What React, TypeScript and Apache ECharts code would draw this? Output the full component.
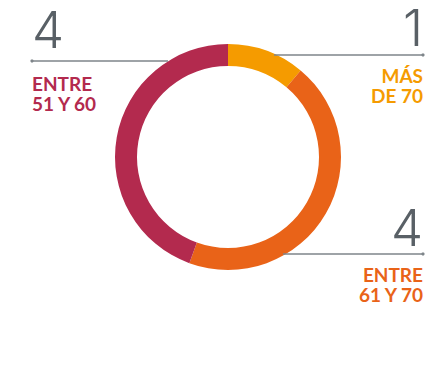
import React, { useEffect, useRef } from "react";
import * as echarts from "echarts";

// Age groups, counts and colours for the ring
const categories = ["MÁS DE 70", "ENTRE 61 Y 70", "ENTRE 51 Y 60"];
const labelLines = [
  ["MÁS", "DE 70"],
  ["ENTRE", "61 Y 70"],
  ["ENTRE", "51 Y 60"],
];
const values = [1, 4, 4];
const colors = ["#F59B00", "#E96318", "#B32A4E"];

// Callout placement for each group
const callouts = [
  { side: "right", lineY: 55, lineX0: 274, numY: 27, labelY: 75 },
  { side: "right", lineY: 254, lineX0: 283, numY: 227, labelY: 274 },
  { side: "left", lineY: 61, lineX0: 168, numY: 29, labelY: 83 },
];

const CX = 228;
const CY = 157;
const LEFT_X = 32;
const RIGHT_X = 423;
const LINE_H = 20.5;
const GREY = "#7E858A";
const NUM_COLOR = "#596066";

export default function App() {
  const ref = useRef<HTMLDivElement>(null);

  useEffect(() => {
    if (!ref.current) return;
    const chart = echarts.init(ref.current, undefined, { renderer: "svg" });

    const graphics: any[] = [];
    callouts.forEach((c, i) => {
      const right = c.side === "right";
      const xEdge = right ? RIGHT_X : LEFT_X;
      graphics.push({
        type: "line",
        z: 10,
        shape: { x1: c.lineX0, y1: c.lineY, x2: xEdge, y2: c.lineY },
        style: { stroke: GREY, lineWidth: 1.5 },
      });
      graphics.push({
        type: "circle",
        z: 10,
        shape: { cx: xEdge, cy: c.lineY, r: 1.6 },
        style: { fill: GREY },
      });
      graphics.push({
        type: "text",
        z: 10,
        x: xEdge,
        y: c.numY,
        style: {
          text: String(values[i]),
          fill: NUM_COLOR,
          font: "300 51px Inter, Roboto, 'Open Sans', sans-serif",
          align: right ? "right" : "left",
          verticalAlign: "middle",
        },
      });
      graphics.push({
        type: "text",
        z: 10,
        x: xEdge,
        y: c.labelY - LINE_H / 2,
        style: {
          text: labelLines[i].join("\n"),
          fill: colors[i],
          font: "bold 19px Lato, 'Open Sans', sans-serif",
          lineHeight: LINE_H,
          align: right ? "right" : "left",
          verticalAlign: "top",
        },
      });
    });

    chart.setOption({
      animation: false,
      backgroundColor: "#ffffff",
      graphic: graphics,
      series: [
        {
          type: "pie",
          center: [CX, CY],
          radius: [91, 113],
          startAngle: 90,
          clockwise: true,
          label: { show: false },
          labelLine: { show: false },
          emphasis: { disabled: true },
          itemStyle: { borderWidth: 0 },
          data: categories.map((name, i) => ({
            name,
            value: values[i],
            itemStyle: { color: colors[i] },
          })),
        },
      ],
    });

    return () => chart.dispose();
  }, []);

  return (
    <div
      ref={ref}
      style={{ position: "absolute", left: 0, top: 0, width: 425, height: 367 }}
    />
  );
}
